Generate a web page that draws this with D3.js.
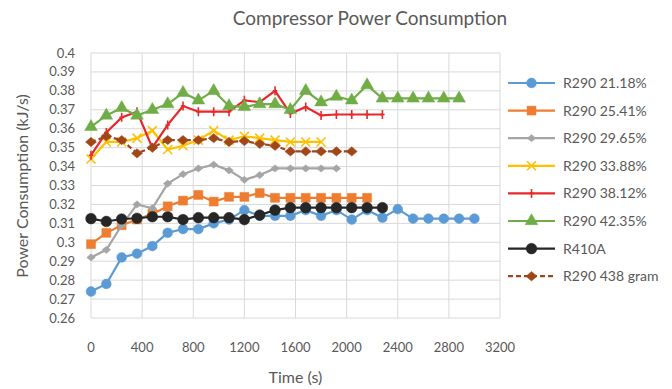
<!DOCTYPE html>
<html>
<head>
<meta charset="utf-8">
<script src="https://cdn.jsdelivr.net/npm/d3@7"></script>
<style>
  body { margin: 0; background: #fff; }
  text { font-family: Lato, "Open Sans", sans-serif; fill: #595959; }
</style>
</head>
<body>
<div id="chart"></div>
<script>
// time stamps (s), every reading
var times = [0, 120, 240, 360, 480, 600, 720, 840, 960, 1080, 1200, 1320, 1440,
  1560, 1680, 1800, 1920, 2040, 2160, 2280, 2400, 2520, 2640, 2760, 2880, 3000];

var r290_2118 = [0.274, 0.278, 0.292, 0.294, 0.298, 0.305, 0.307, 0.307, 0.310, 0.312, 0.317, 0.314, 0.314,
  0.314, 0.317, 0.314, 0.317, 0.312, 0.317, 0.313, 0.3175, 0.3125, 0.3125, 0.3125, 0.3125, 0.3125];
var r290_2541 = [0.299, 0.305, 0.309, 0.312, 0.315, 0.319, 0.322, 0.325, 0.3215, 0.324, 0.324, 0.326, 0.3235,
  0.3235, 0.3235, 0.3235, 0.3235, 0.3235, 0.3235];
var r290_2965 = [0.292, 0.296, 0.309, 0.320, 0.318, 0.331, 0.336, 0.339, 0.341, 0.338, 0.333, 0.3355, 0.339,
  0.339, 0.339, 0.339, 0.339];
var r290_3388 = [0.344, 0.353, 0.353, 0.355, 0.359, 0.349, 0.351, 0.354, 0.359, 0.354, 0.356, 0.355, 0.354,
  0.353, 0.353, 0.353];
var r290_3812 = [0.346, 0.358, 0.366, 0.369, 0.350, 0.362, 0.372, 0.369, 0.369, 0.369, 0.375, 0.374, 0.380,
  0.368, 0.3715, 0.367, 0.3675, 0.3675, 0.3675, 0.3675];
var r290_4235 = [0.361, 0.367, 0.371, 0.367, 0.370, 0.373, 0.379, 0.375, 0.380, 0.372, 0.3715, 0.373, 0.373,
  0.370, 0.380, 0.374, 0.377, 0.375, 0.383, 0.376, 0.376, 0.376, 0.376, 0.376, 0.376];
var r410a = [0.3125, 0.311, 0.3123, 0.3127, 0.3135, 0.3135, 0.312, 0.313, 0.313, 0.313, 0.312, 0.3144, 0.317,
  0.3183, 0.3183, 0.3183, 0.3183, 0.3183, 0.3183, 0.3183];
var r290_438g = [0.353, 0.356, 0.354, 0.347, 0.350, 0.354, 0.354, 0.354, 0.355, 0.353, 0.3535, 0.352, 0.351,
  0.348, 0.348, 0.348, 0.348, 0.348];

var seriesNames = ["R290 21.18%", "R290 25.41%", "R290 29.65%", "R290 33.88%",
  "R290 38.12%", "R290 42.35%", "R410A", "R290 438 gram"];
var seriesValues = [r290_2118, r290_2541, r290_2965, r290_3388, r290_3812, r290_4235, r410a, r290_438g];

var xTicks = [0, 400, 800, 1200, 1600, 2000, 2400, 2800, 3200];
var yTicks = [0.26, 0.27, 0.28, 0.29, 0.3, 0.31, 0.32, 0.33, 0.34, 0.35, 0.36, 0.37, 0.38, 0.39, 0.4];

// look of each series
var styles = [
  { color: "#5B9BD5", marker: "circle", size: 75 },
  { color: "#ED7D31", marker: "square", size: 80 },
  { color: "#A5A5A5", marker: "rhombus", size: 8.5 },
  { color: "#FFC000", marker: "x", size: 9 },
  { color: "#E8282B", marker: "plus", size: 9 },
  { color: "#70AD47", marker: "triangle", size: 70 },
  { color: "#262626", marker: "circle", size: 90 },
  { color: "#A0471A", marker: "rhombus", size: 11, dash: "5,3" }
];

var width = 672, height = 389;
var margin = { top: 53, right: 172, bottom: 71, left: 91 };

var svg = d3.select("#chart").append("svg")
  .attr("width", width)
  .attr("height", height);

var x = d3.scaleLinear().domain([0, 3200]).range([margin.left, width - margin.right]);
var y = d3.scaleLinear().domain([0.26, 0.4]).range([height - margin.bottom, margin.top]);

// gridlines
svg.append("g").selectAll("line.h")
  .data(yTicks)
  .enter().append("line")
  .attr("x1", x(0)).attr("x2", x(3200))
  .attr("y1", d => y(d)).attr("y2", d => y(d))
  .attr("stroke", "#d9d9d9").attr("stroke-width", 1);

svg.append("g").selectAll("line.v")
  .data(xTicks)
  .enter().append("line")
  .attr("x1", d => x(d)).attr("x2", d => x(d))
  .attr("y1", y(0.26)).attr("y2", y(0.4))
  .attr("stroke", "#d9d9d9").attr("stroke-width", 1);

// tick labels
var fmtY = d => d3.format(".2f")(d).replace(/0$/, "").replace(/\.$/, "");
svg.append("g").selectAll("text")
  .data(yTicks)
  .enter().append("text")
  .attr("x", x(0) - 16)
  .attr("y", d => y(d) + 4.5)
  .attr("text-anchor", "end")
  .style("font-size", "13px")
  .text(fmtY);

svg.append("g").selectAll("text")
  .data(xTicks)
  .enter().append("text")
  .attr("x", d => x(d))
  .attr("y", 352)
  .attr("text-anchor", "middle")
  .style("font-size", "13px")
  .text(d => d);

// titles
svg.append("text")
  .attr("x", 370).attr("y", 25)
  .attr("text-anchor", "middle")
  .style("font-size", "19px")
  .text("Compressor Power Consumption");

svg.append("text")
  .attr("x", (x(0) + x(3200)) / 2).attr("y", 383)
  .attr("text-anchor", "middle")
  .style("font-size", "16px")
  .text("Time (s)");

svg.append("text")
  .attr("transform", "translate(28,186) rotate(-90)")
  .attr("text-anchor", "middle")
  .style("font-size", "16px")
  .text("Power Consumption (kJ/s)");

function markerPath(type, size) {
  var s = size / 2;
  if (type == "x")
    return `M${-s},${-s}L${s},${s}M${-s},${s}L${s},${-s}`;
  if (type == "plus")
    return `M0,${-s}L0,${s}M${-s * 0.5},0L${s * 0.5},0`;
  if (type == "rhombus") {
    var h = s * 0.85;
    return `M${-s},0L0,${-h}L${s},0L0,${h}Z`;
  }
  var sym = { circle: d3.symbolCircle, square: d3.symbolSquare, triangle: d3.symbolTriangle }[type];
  return d3.symbol().type(sym).size(size)();
}

function drawMarkers(g, st, pts) {
  var open = st.marker == "x" || st.marker == "plus";
  g.selectAll("path.m")
    .data(pts)
    .enter().append("path")
    .attr("transform", d => `translate(${d[0]},${d[1]})`)
    .attr("d", markerPath(st.marker, st.size))
    .attr("fill", open ? "none" : st.color)
    .attr("stroke", st.color)
    .attr("stroke-width", open ? 1.6 : 0.5);
}

var line = d3.line().x(d => x(d.t)).y(d => y(d.v));

seriesValues.forEach(function(vals, i) {
  var st = styles[i];
  var data = vals.map((v, j) => ({ t: times[j], v: v }));
  var g = svg.append("g").attr("class", "series");
  g.append("path")
    .attr("d", line(data))
    .attr("fill", "none")
    .attr("stroke", st.color)
    .attr("stroke-width", 2.2)
    .attr("stroke-dasharray", st.dash || null);
  drawMarkers(g, st, data.map(d => [x(d.t), y(d.v)]));
});

// legend
var legend = svg.append("g").attr("transform", "translate(508,83)");
seriesNames.forEach(function(name, i) {
  var st = styles[i];
  var g = legend.append("g").attr("transform", `translate(0,${i * 27.6})`);
  g.append("line")
    .attr("x1", 0).attr("x2", 47)
    .attr("stroke", st.color)
    .attr("stroke-width", 2.2)
    .attr("stroke-dasharray", st.dash || null);
  drawMarkers(g, st, [[23.5, 0]]);
  g.append("text")
    .attr("x", 55).attr("y", 5)
    .style("font-size", "14px")
    .text(name);
});
</script>
</body>
</html>
